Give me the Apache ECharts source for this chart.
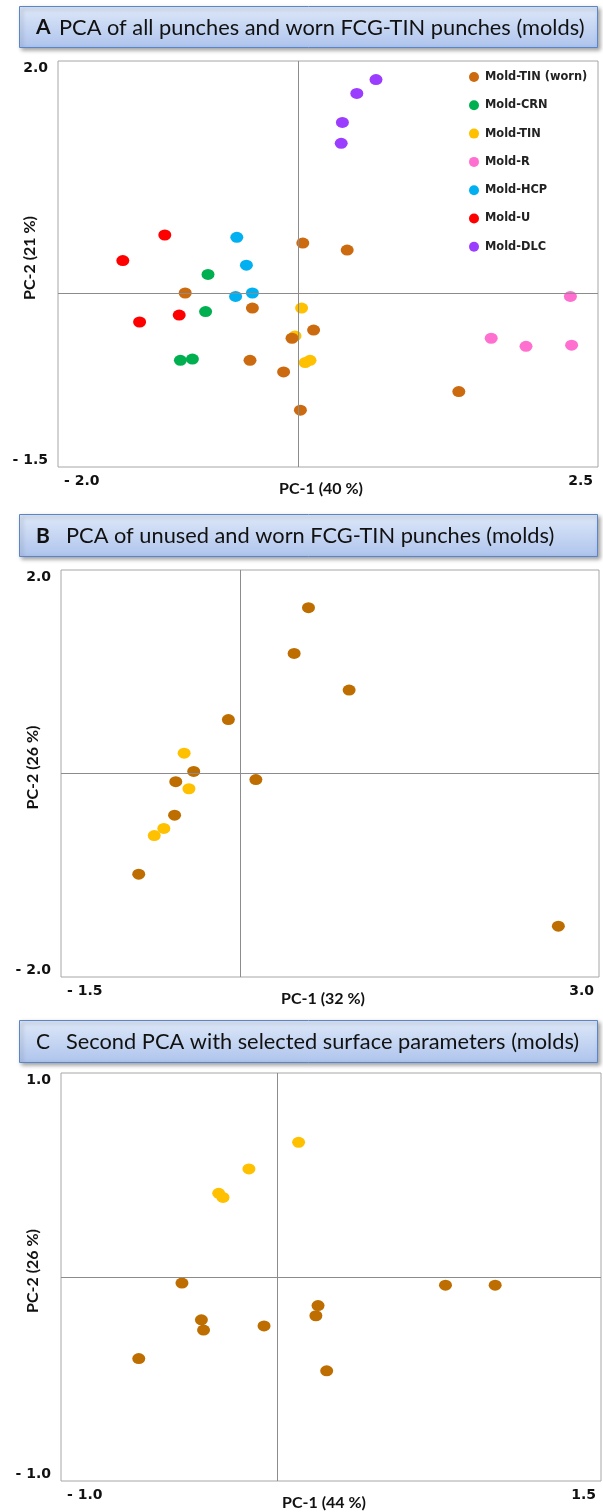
<!DOCTYPE html>
<html>
<head>
<meta charset="utf-8">
<script src="https://cdn.jsdelivr.net/npm/echarts@6/dist/echarts.min.js"></script>
<style>
  html, body { margin: 0; padding: 0; background: #fff; }
  #chart { width: 603px; height: 1512px; }
</style>
</head>
<body>
<div id="chart"></div>
<script>
// ---------- Panel A data ----------
const namesA = ['Mold-TIN (worn)', 'Mold-CRN', 'Mold-TIN', 'Mold-R', 'Mold-HCP', 'Mold-U', 'Mold-DLC'];
const aTinWorn = [[-0.94, 0.00], [-0.38, -0.13], [-0.40, -0.58], [-0.12, -0.68], [-0.05, -0.39], [0.02, -1.01], [0.04, 0.43], [0.41, 0.37], [0.13, -0.32], [1.34, -0.85]];
const aCrn = [[-0.75, 0.16], [-0.77, -0.16], [-0.98, -0.58], [-0.88, -0.57]];
const aTin = [[0.03, -0.13], [-0.025, -0.37], [0.06, -0.60], [0.10, -0.58]];
const aR = [[2.27, -0.03], [1.61, -0.39], [1.90, -0.46], [2.28, -0.45]];
const aHcp = [[-0.51, 0.48], [-0.43, 0.24], [-0.52, -0.03], [-0.38, 0.00]];
const aU = [[-1.11, 0.50], [-1.46, 0.28], [-1.32, -0.25], [-0.99, -0.19]];
const aDlc = [[0.65, 1.84], [0.49, 1.72], [0.37, 1.47], [0.36, 1.29]];

// ---------- Panel B data ----------
const bWorn = [[0.45, 1.18], [0.57, 1.63], [0.91, 0.82], [-0.10, 0.53], [-0.39, 0.02], [-0.54, -0.08], [0.13, -0.06], [-0.55, -0.41], [-0.85, -0.99], [2.66, -1.50]];
const bTin = [[-0.47, 0.20], [-0.43, -0.15], [-0.64, -0.54], [-0.72, -0.61]];

// ---------- Panel C data ----------
const cTin = [[0.10, 0.66], [-0.13, 0.53], [-0.27, 0.41], [-0.25, 0.39]];
const cWorn = [[-0.44, -0.03], [-0.35, -0.21], [-0.34, -0.26], [-0.06, -0.24], [-0.64, -0.40], [0.19, -0.14], [0.18, -0.19], [0.23, -0.46], [0.78, -0.04], [1.01, -0.04]];

// ---------- Axis ranges (tick labels at the ends) ----------
const xRangeA = [-2.0, 2.5], yRangeA = [-1.5, 2.0];
const xRangeB = [-1.5, 3.0], yRangeB = [-2.0, 2.0];
const xRangeC = [-1.0, 1.5], yRangeC = [-1.0, 1.0];
const xNames = ['PC-1 (40 %)', 'PC-1 (32 %)', 'PC-1 (44 %)'];
const yNames = ['PC-2 (21 %)', 'PC-2 (26 %)', 'PC-2 (26 %)'];
const titles = [
  ['A', 'PCA of all punches and worn FCG-TIN punches (molds)'],
  ['B', 'PCA of unused and worn FCG-TIN punches (molds)'],
  ['C', 'Second PCA with selected surface parameters (molds)']
];

const colorsA = ['#CC6A10', '#00B050', '#FFC000', '#FF6FCF', '#00B0F0', '#FF0000', '#9B3DFF'];
const wornBC = '#BE6E00';
const yellowBC = '#FFC000';

const dot = 'path://M0,5a5,5 0 1,0 10,0a5,5 0 1,0 -10,0z';
const DOT = [13, 11];

function fmt(v) {
  return v < 0 ? '- ' + Math.abs(v).toFixed(1) : v.toFixed(1);
}

const grids = [
  { left: 58, top: 61, width: 540, height: 406 },
  { left: 61, top: 570, width: 538, height: 407 },
  { left: 61, top: 1073, width: 540, height: 408 }
];
const xr = [xRangeA, xRangeB, xRangeC];
const yr = [yRangeA, yRangeB, yRangeC];

const tickFont = { fontFamily: 'DejaVu Sans', fontWeight: 'bold', fontSize: 14, color: '#111' };
const nameFont = { fontFamily: 'Lato', fontWeight: 'bold', fontSize: 16, color: '#111' };

const xAxes = xr.map((r, i) => ({
  gridIndex: i, type: 'value', min: r[0], max: r[1],
  axisLine: { show: false }, axisTick: { show: false }, splitLine: { show: false },
  axisLabel: Object.assign({
    customValues: r, margin: 7, showMinLabel: true, showMaxLabel: true,
    alignMinLabel: 'left', alignMaxLabel: 'right',
    padding: [0, 5, 0, 6],
    formatter: v => (Math.abs(v - r[0]) < 1e-9 || Math.abs(v - r[1]) < 1e-9) ? fmt(v) : ''
  }, tickFont),
  name: xNames[i], nameLocation: 'middle', nameGap: 14, nameMoveOverlap: false,
  nameTextStyle: Object.assign({ padding: [0, 14, 0, 0] }, nameFont)
}));

const yAxes = yr.map((r, i) => ({
  gridIndex: i, type: 'value', min: r[0], max: r[1],
  axisLine: { show: false }, axisTick: { show: false }, splitLine: { show: false },
  axisLabel: Object.assign({
    customValues: r, margin: 10, showMinLabel: true, showMaxLabel: true,
    verticalAlignMinLabel: 'bottom', verticalAlignMaxLabel: 'top',
    formatter: v => (Math.abs(v - r[0]) < 1e-9 || Math.abs(v - r[1]) < 1e-9) ? fmt(v) : ''
  }, tickFont),
  name: yNames[i], nameLocation: 'middle', nameGap: 20, nameRotate: 90, nameMoveOverlap: false,
  nameTextStyle: Object.assign({ padding: [0, 0, 0, 12] }, nameFont)
}));

function crossSeries(i) {
  return {
    name: 'axes' + i, type: 'scatter', xAxisIndex: i, yAxisIndex: i, data: [], z: 1,
    silent: true,
    markLine: {
      silent: true, symbol: 'none', animation: false,
      label: { show: false },
      lineStyle: { color: '#8c8c8c', width: 1, type: 'solid' },
      emphasis: { disabled: true },
      data: [{ xAxis: 0 }, { yAxis: 0 }]
    }
  };
}

function pts(name, data, color, i, z) {
  return {
    name: name, type: 'scatter', xAxisIndex: i, yAxisIndex: i, data: data,
    symbol: dot, symbolSize: DOT, z: z,
    itemStyle: { color: color, opacity: 1 },
    emphasis: { disabled: true }
  };
}

const dataA = [aTinWorn, aCrn, aTin, aR, aHcp, aU, aDlc];
const series = [crossSeries(0), crossSeries(1), crossSeries(2)];
for (let k = dataA.length - 1; k >= 0; k--) {
  series.push(pts(namesA[k], dataA[k], colorsA[k], 0, k === 0 ? 4 : 3));
}
series.push(pts('Unused FCG-TIN B', bTin, yellowBC, 1, 3));
series.push(pts('Worn FCG-TIN B', bWorn, wornBC, 1, 4));
series.push(pts('Unused FCG-TIN C', cTin, yellowBC, 2, 3));
series.push(pts('Worn FCG-TIN C', cWorn, wornBC, 2, 4));

const boxes = [
  { y: 6, h: 41, tx: 59 },
  { y: 514, h: 42, tx: 66 },
  { y: 1020, h: 42, tx: 66 }
];
const graphics = [];
boxes.forEach((b, i) => {
  graphics.push({
    type: 'rect', left: 19, top: b.y, z: 10,
    shape: { width: 578, height: b.h },
    style: {
      fill: new echarts.graphic.LinearGradient(0, 0, 0, 1, [
        { offset: 0, color: '#DEE8F8' }, { offset: 1, color: '#AEC4ED' }
      ]),
      stroke: '#5A86C8', lineWidth: 1,
      shadowBlur: 4, shadowOffsetX: 2, shadowOffsetY: 2, shadowColor: 'rgba(0,0,0,0.35)'
    }
  });
  graphics.push({
    type: 'text', x: 36, y: b.y + b.h / 2 + 1, z: 11,
    style: {
      text: titles[i][0], fontFamily: 'Lato', fontWeight: i === 2 ? 'normal' : 'bold',
      fontSize: 21, fill: '#111', verticalAlign: 'middle', align: 'left'
    }
  });
  graphics.push({
    type: 'text', x: b.tx, y: b.y + b.h / 2 + 1, z: 11,
    style: {
      text: titles[i][1], fontFamily: 'Lato', fontWeight: 'normal',
      fontSize: 21.8, fill: '#111', verticalAlign: 'middle', align: 'left'
    }
  });
});

const chart = echarts.init(document.getElementById('chart'), null, { renderer: 'canvas' });
chart.setOption({
  animation: false,
  backgroundColor: '#fff',
  grid: grids.map(g => Object.assign({ show: true, borderColor: '#a6a6a6', borderWidth: 1, backgroundColor: '#fff', containLabel: false, outerBoundsMode: 'none' }, g)),
  xAxis: xAxes,
  yAxis: yAxes,
  legend: {
    data: namesA, orient: 'vertical', left: 464, top: 65,
    itemWidth: 12, itemHeight: 10, itemGap: 14.3, icon: dot,
    textStyle: { fontFamily: 'DejaVu Sans', fontWeight: 'bold', fontSize: 11.4, lineHeight: 14, color: '#222' },
    selectedMode: false
  },
  series: series,
  graphic: graphics
});
</script>
</body>
</html>
